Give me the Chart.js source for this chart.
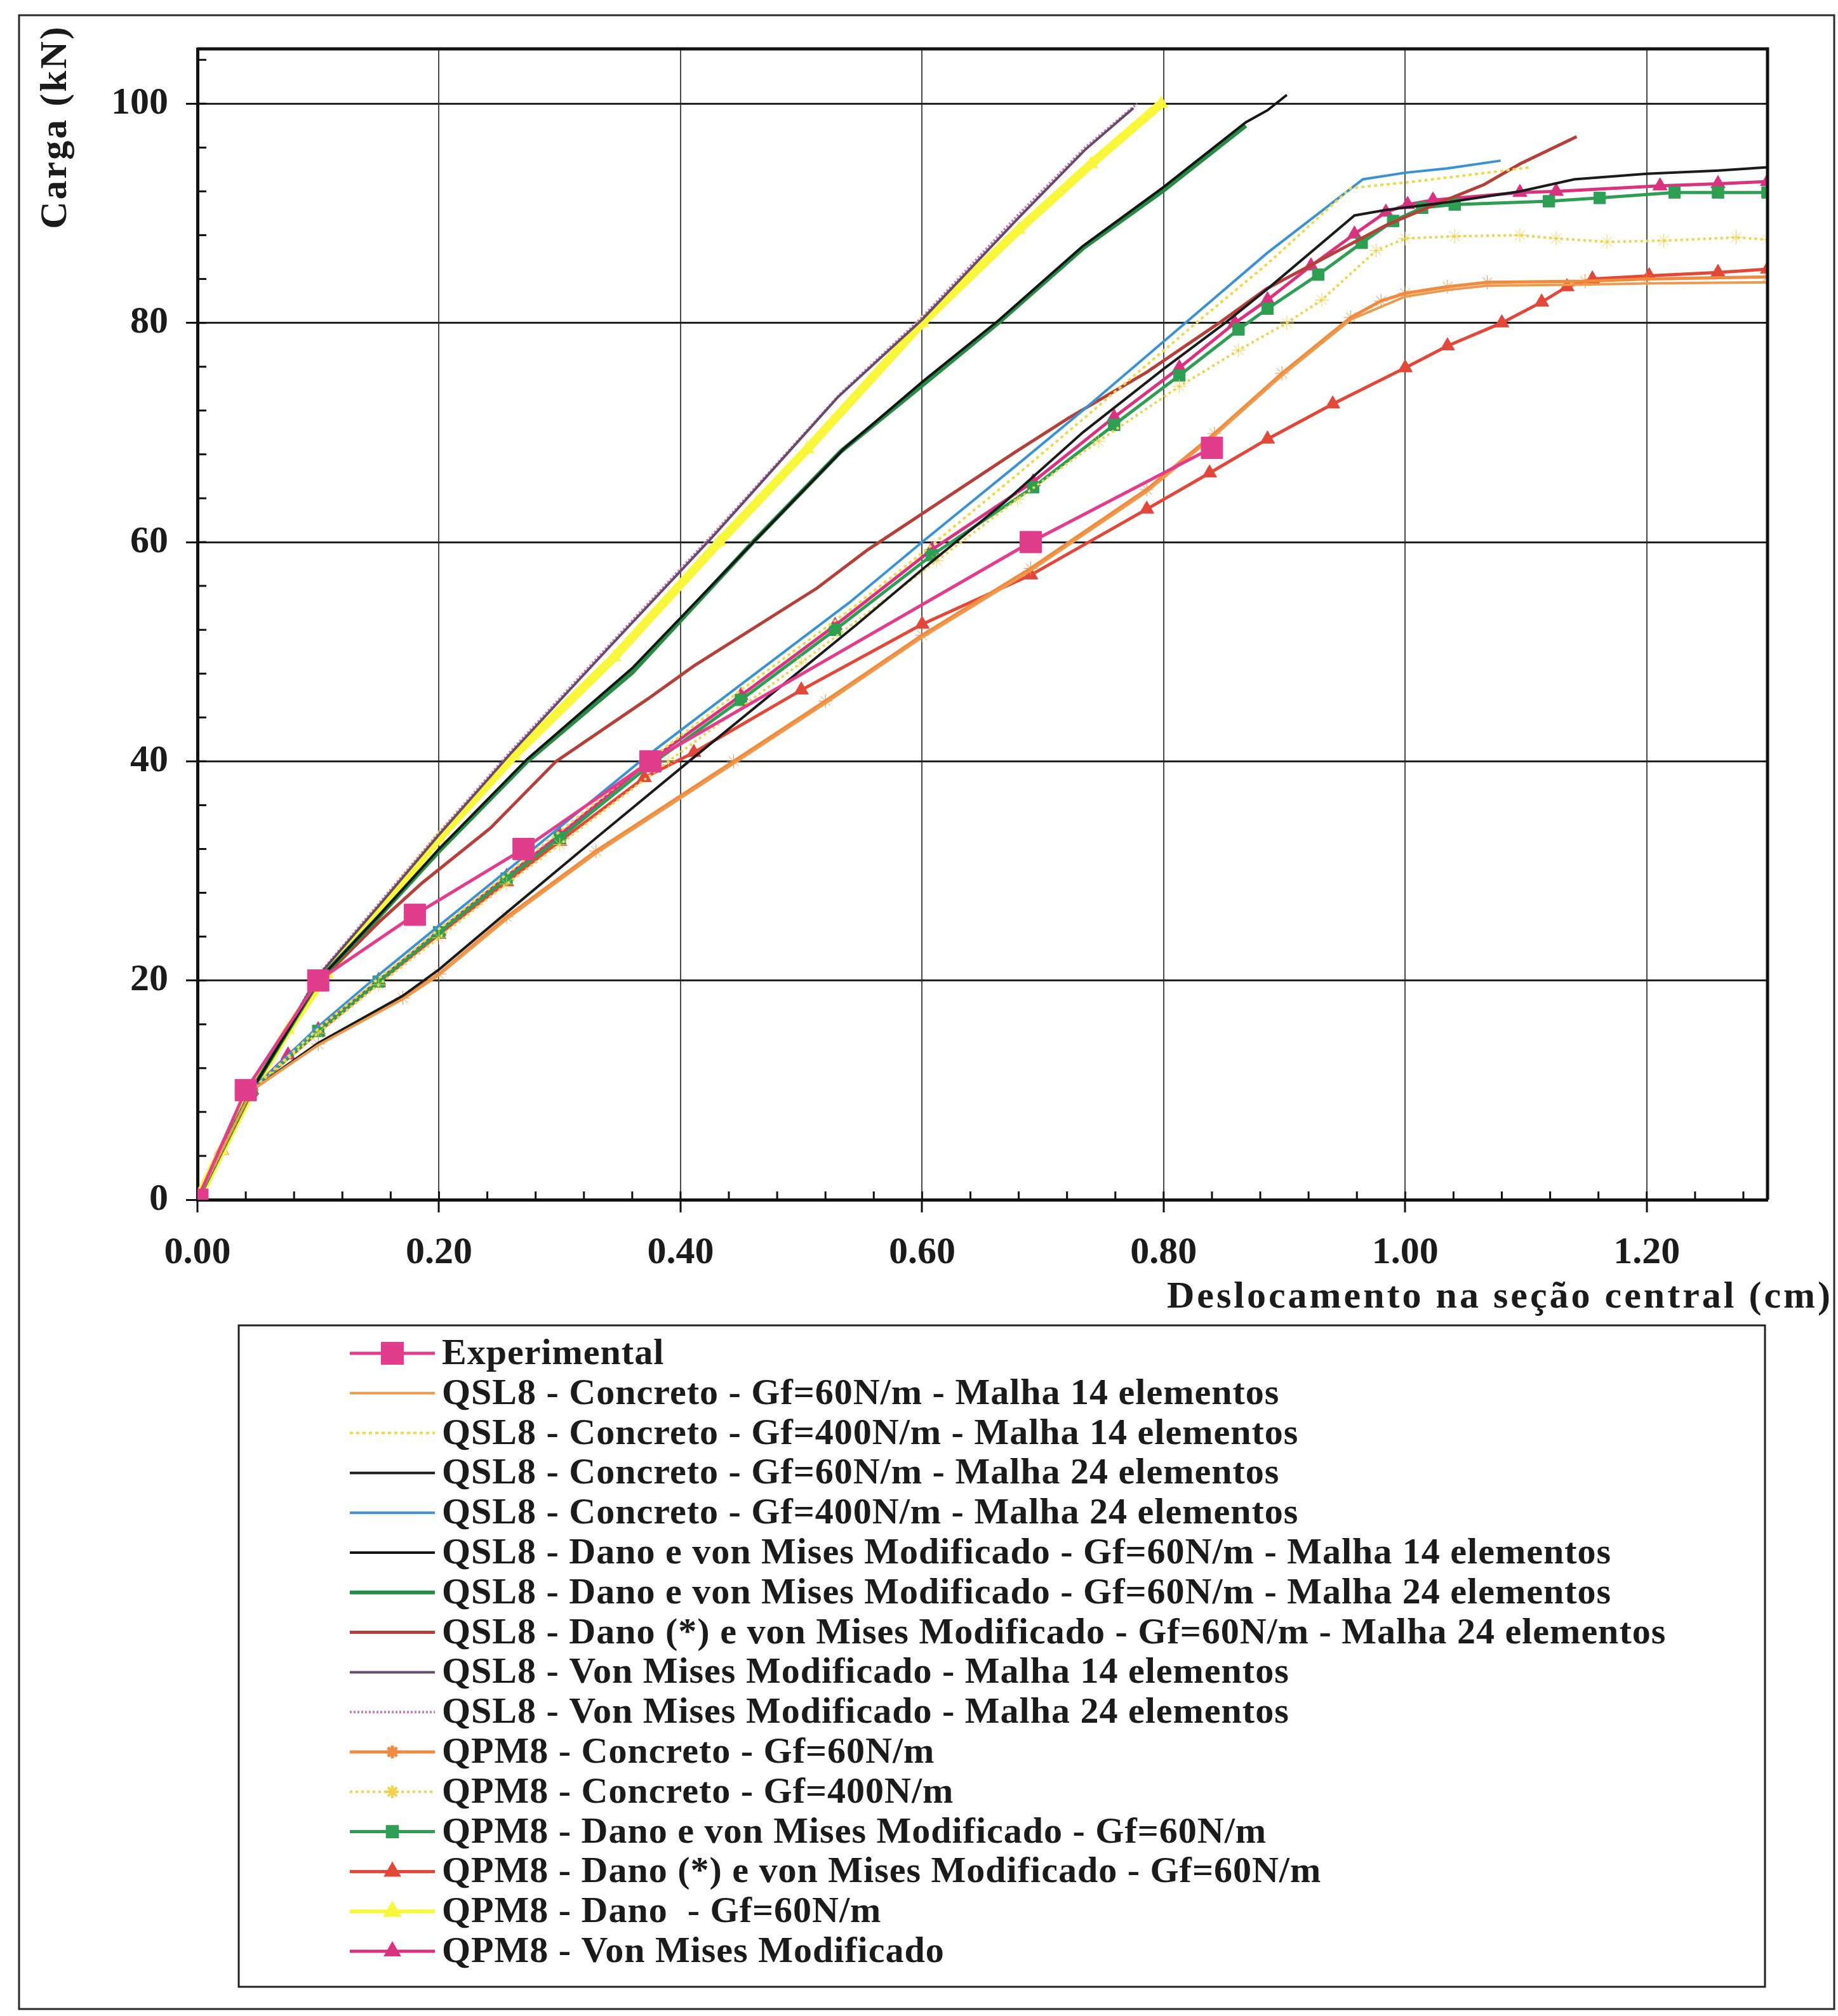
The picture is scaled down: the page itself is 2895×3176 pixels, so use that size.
<!DOCTYPE html>
<html>
<head>
<meta charset="utf-8">
<script src="https://cdn.jsdelivr.net/npm/chart.js@4.4.1/dist/chart.umd.min.js"></script>
<style>
  html, body { margin: 0; padding: 0; background: #fff; }
  canvas { display: block; }
</style>
</head>
<body>
<canvas id="c" width="2895" height="3176"></canvas>
<script>
// Axis ticks and ranges
const xTicks = [0, 0.2, 0.4, 0.6, 0.8, 1.0, 1.2];
const yTicks = [0, 20, 40, 60, 80, 100];
const xRange = [0, 1.30];
const yRange = [0, 105];

// Series labels, in legend order
const seriesLabels = [
  'Experimental',
  'QSL8 - Concreto - Gf=60N/m - Malha 14 elementos',
  'QSL8 - Concreto - Gf=400N/m - Malha 14 elementos',
  'QSL8 - Concreto - Gf=60N/m - Malha 24 elementos',
  'QSL8 - Concreto - Gf=400N/m - Malha 24 elementos',
  'QSL8 - Dano e von Mises Modificado - Gf=60N/m - Malha 14 elementos',
  'QSL8 - Dano e von Mises Modificado - Gf=60N/m - Malha 24 elementos',
  'QSL8 - Dano (*) e von Mises Modificado - Gf=60N/m - Malha 24 elementos',
  'QSL8 - Von Mises Modificado - Malha 14 elementos',
  'QSL8 - Von Mises Modificado - Malha 24 elementos',
  'QPM8 - Concreto - Gf=60N/m',
  'QPM8 - Concreto - Gf=400N/m',
  'QPM8 - Dano e von Mises Modificado - Gf=60N/m',
  'QPM8 - Dano (*) e von Mises Modificado - Gf=60N/m',
  'QPM8 - Dano  - Gf=60N/m',
  'QPM8 - Von Mises Modificado'
];

// Load (kN) vs. mid-span displacement (cm): [displacement, load]
const experimental = [[0,0],[0.04,10],[0.10,20],[0.18,26],[0.27,32],[0.375,40],[0.69,60],[0.84,68.6]];

const qsl8ConcGf60M14 = [[0,0],[0.045,10],[0.10,14.1],[0.17,18.3],[0.2,20.5],[0.256,25.6],[0.33,31.6],[0.444,39.8],[0.52,45.3],[0.60,51.3],[0.69,57.4],[0.786,64.6],[0.842,69.7],[0.898,75.2],[0.955,80.3],[1.0,82.4],[1.035,83.0],[1.068,83.4],[1.149,83.5],[1.2,83.6],[1.30,83.7]];

const qsl8ConcGf400M14 = [[0,0],[0.045,10],[0.10,15.6],[0.15,20.2],[0.2,24.7],[0.256,29.7],[0.30,33.6],[0.37,39.8],[0.45,46.5],[0.54,53.8],[0.60,59],[0.677,66],[0.733,71.2],[0.827,80],[0.886,85.4],[0.955,92.3],[1.0,92.8],[1.053,93.5],[1.104,94.2]];

const qsl8ConcGf60M24 = [[0,0],[0.045,10],[0.10,14.3],[0.17,18.6],[0.2,21],[0.256,26.2],[0.33,33],[0.407,40],[0.545,52.4],[0.60,57.5],[0.668,63.6],[0.733,70],[0.80,75.8],[0.851,80],[0.886,83.1],[0.958,89.8],[0.984,90.3],[1.035,91.0],[1.095,92.0],[1.14,93.1],[1.2,93.6],[1.259,93.9],[1.30,94.2]];

const qsl8ConcGf400M24 = [[0,0],[0.045,10],[0.10,15.8],[0.15,20.5],[0.2,25],[0.256,30],[0.30,34],[0.37,40.3],[0.45,47],[0.54,54.5],[0.60,60],[0.677,66.9],[0.733,72],[0.818,80],[0.886,86.4],[0.965,93.1],[1.0,93.7],[1.035,94.1],[1.079,94.8]];

const qsl8DanoVmM14 = [[0,0],[0.045,10],[0.10,20],[0.15,25.9],[0.2,32],[0.273,40.2],[0.36,48.5],[0.462,60.2],[0.535,68.5],[0.60,74.6],[0.663,80.2],[0.733,87],[0.80,92.4],[0.868,98.3],[0.886,99.4],[0.902,100.8]];

const qsl8DanoVmM24 = [[0,0],[0.045,10],[0.10,20],[0.15,25.8],[0.2,31.8],[0.273,40],[0.36,48.1],[0.46,60],[0.533,68.3],[0.60,74.3],[0.663,80],[0.733,86.8],[0.80,92.1],[0.868,98]];

const qsl8DanoStarVmM24 = [[0,0],[0.045,10],[0.10,19.8],[0.15,25.3],[0.186,28.9],[0.2425,33.9],[0.297,40],[0.373,45.7],[0.411,48.7],[0.513,55.8],[0.555,59.3],[0.603,62.8],[0.677,68.2],[0.721,71.3],[0.786,75.5],[0.846,80],[0.885,83.1],[0.984,88.9],[1.029,91.0],[1.065,92.6],[1.095,94.5],[1.142,97]];

const qsl8VmM14 = [[0,0],[0.045,10],[0.10,20.4],[0.15,26.8],[0.2,33.3],[0.26,40.8],[0.34,50.3],[0.425,60.3],[0.53,73.2],[0.60,80.3],[0.68,89.6],[0.735,95.8],[0.775,99.6]];

const qsl8VmM24 = [[0,0],[0.045,10],[0.10,20.5],[0.15,27],[0.2,33.5],[0.26,41],[0.34,50.5],[0.425,60.5],[0.532,73.5],[0.60,80.5],[0.679,89.8],[0.735,96],[0.778,100]];

const qpm8ConcGf60 = [[0,0],[0.045,10],[0.10,14.2],[0.17,18.4],[0.2,20.6],[0.256,25.8],[0.33,31.8],[0.444,40],[0.52,45.5],[0.60,51.5],[0.69,57.6],[0.786,64.8],[0.842,69.9],[0.898,75.4],[0.955,80.5],[0.980,82],[1.0,82.7],[1.035,83.3],[1.068,83.7],[1.149,83.8],[1.2,84.0],[1.30,84.2]];

const qpm8ConcGf400 = [[0,0],[0.045,10],[0.10,15.2],[0.15,19.6],[0.2,23.9],[0.256,28.8],[0.30,32.4],[0.39,40],[0.50,49],[0.612,58.3],[0.679,63.9],[0.746,69.2],[0.813,74.2],[0.862,77.5],[0.902,80],[0.931,82.1],[0.976,86.6],[1.0,87.7],[1.041,87.9],[1.095,88.0],[1.125,87.7],[1.167,87.4],[1.214,87.5],[1.274,87.8],[1.30,87.6]];

const qpm8DanoVm = [[0,0],[0.045,10],[0.10,15.4],[0.15,19.9],[0.2,24.4],[0.256,29.3],[0.30,33],[0.374,39.6],[0.45,45.6],[0.528,52],[0.608,58.8],[0.692,65],[0.759,70.7],[0.813,75.2],[0.862,79.4],[0.886,81.3],[0.928,84.4],[0.964,87.3],[0.990,89.3],[1.014,90.5],[1.041,90.8],[1.119,91.1],[1.161,91.4],[1.223,91.9],[1.259,91.9],[1.30,91.9]];

const qpm8DanoStarVm = [[0,0],[0.045,10],[0.10,15.3],[0.15,19.8],[0.2,24.2],[0.256,29],[0.30,32.7],[0.37,38.5],[0.411,40.8],[0.50,46.5],[0.60,52.5],[0.69,57],[0.786,63],[0.838,66.3],[0.886,69.4],[0.94,72.6],[1.0,75.9],[1.035,77.9],[1.08,80],[1.113,81.9],[1.134,83.3],[1.155,84.0],[1.202,84.3],[1.259,84.6],[1.30,84.9]];

const qpm8Dano = [[0,0],[0.02,4.5],[0.045,10],[0.075,15.5],[0.107,20.6],[0.151,26.5],[0.2,33],[0.262,40.5],[0.345,49.5],[0.432,60],[0.505,68.5],[0.6,80],[0.68,88.5],[0.74,94.5],[0.798,100]];

const qpm8Vm = [[0,0],[0.02,4.5],[0.045,10],[0.075,13.2],[0.10,15.5],[0.15,20],[0.2,24.5],[0.256,29.5],[0.30,33.3],[0.374,40],[0.45,46],[0.528,52.4],[0.608,59.3],[0.692,65.5],[0.759,71.4],[0.813,75.9],[0.859,80],[0.886,82.1],[0.922,85.2],[0.958,88.1],[0.984,90.1],[1.002,90.8],[1.023,91.2],[1.095,91.9],[1.125,92.0],[1.211,92.5],[1.259,92.7],[1.30,92.9]];

const seriesData = [
  experimental, qsl8ConcGf60M14, qsl8ConcGf400M14, qsl8ConcGf60M24, qsl8ConcGf400M24,
  qsl8DanoVmM14, qsl8DanoVmM24, qsl8DanoStarVmM24, qsl8VmM14, qsl8VmM24,
  qpm8ConcGf60, qpm8ConcGf400, qpm8DanoVm, qpm8DanoStarVm, qpm8Dano, qpm8Vm
];

// Line and marker appearance for each series
const seriesStyles = [
  { color: '#E23D8C', width: 5,  dash: [],     point: 'rect',     radius: 24, legendRadius: 22 },
  { color: '#EE9A4C', width: 4,  dash: [],     point: false,      radius: 0 },
  { color: '#EFD94A', width: 4,  dash: [5, 5], point: false,      radius: 0 },
  { color: '#1B1B1B', width: 4,  dash: [],     point: false,      radius: 0 },
  { color: '#3A92D2', width: 4,  dash: [],     point: false,      radius: 0 },
  { color: '#151515', width: 4,  dash: [],     point: false,      radius: 0 },
  { color: '#258B45', width: 7,  dash: [],     point: false,      radius: 0 },
  { color: '#B4403A', width: 5,  dash: [],     point: false,      radius: 0 },
  { color: '#6A4A6A', width: 4,  dash: [],     point: false,      radius: 0 },
  { color: '#C77ABD', width: 4,  dash: [3, 3], point: false,      radius: 0 },
  { color: '#F08A3E', width: 5,  dash: [],     point: 'star',     radius: 11, legendRadius: 10 },
  { color: '#F1D24C', width: 4,  dash: [4, 5], point: 'star',     radius: 11, legendRadius: 10 },
  { color: '#2E9E52', width: 5,  dash: [],     point: 'rect',     radius: 13, legendRadius: 11 },
  { color: '#E2483A', width: 5,  dash: [],     point: 'triangle', radius: 13, legendRadius: 11 },
  { color: '#F9F73C', width: 14, dash: [],     point: 'triangle', radius: 12, legendRadius: 11 },
  { color: '#D9327E', width: 5,  dash: [],     point: 'triangle', radius: 13, legendRadius: 11 }
];

const datasets = seriesData.map((pts, i) => {
  const s = seriesStyles[i];
  return {
    label: seriesLabels[i],
    data: pts.map(([x, y]) => ({ x, y })),
    borderColor: s.color,
    backgroundColor: s.color,
    borderWidth: s.width,
    borderDash: s.dash,
    pointStyle: s.point,
    pointRadius: s.radius,
    pointBackgroundColor: s.color,
    pointBorderColor: s.color,
    pointBorderWidth: 1,
    tension: 0,
    fill: false
  };
});

const SERIF = '"Liberation Serif", "Times New Roman", serif';
const INK = '#1b1b1b';

// Frame, minor ticks, axis titles and the boxed legend
const decor = {
  id: 'decor',
  beforeDraw(chart) {
    const ctx = chart.ctx;
    ctx.save();
    ctx.fillStyle = '#ffffff';
    ctx.fillRect(0, 0, chart.width, chart.height);
    ctx.strokeStyle = '#2a2a2a';
    ctx.lineWidth = 3;
    ctx.strokeRect(30, 24, 2859, 3141);
    ctx.restore();
  },
  afterDraw(chart) {
    const { ctx, chartArea: a, scales: { x, y } } = chart;
    ctx.save();

    // top and right edges of the plot frame
    ctx.strokeStyle = '#111';
    ctx.lineWidth = 5;
    ctx.beginPath();
    ctx.moveTo(a.left, a.top);
    ctx.lineTo(a.right, a.top);
    ctx.lineTo(a.right, a.bottom);
    ctx.stroke();

    // inward minor ticks
    ctx.lineWidth = 3;
    ctx.beginPath();
    for (let k = 1; k * 0.04 < xRange[1] - 1e-6; k++) {
      const px = x.getPixelForValue(k * 0.04);
      ctx.moveTo(px, a.bottom);
      ctx.lineTo(px, a.bottom - 13);
    }
    for (let k = 1; k * 4 < yRange[1]; k++) {
      const py = y.getPixelForValue(k * 4);
      ctx.moveTo(a.left, py);
      ctx.lineTo(a.left + 14, py);
    }
    ctx.stroke();

    // axis titles
    ctx.fillStyle = INK;
    ctx.font = 'bold 60px ' + SERIF;
    ctx.letterSpacing = '4px';
    ctx.textAlign = 'right';
    ctx.textBaseline = 'alphabetic';
    ctx.fillText('Deslocamento na seção central (cm)', 2887, 2060);

    ctx.save();
    ctx.translate(88, 200);
    ctx.rotate(-Math.PI / 2);
    ctx.letterSpacing = '3px';
    ctx.textAlign = 'center';
    ctx.textBaseline = 'middle';
    ctx.fillText('Carga (kN)', 0, 0);
    ctx.restore();

    // legend box
    const box = { left: 376, top: 2088, right: 2780, bottom: 3130 };
    ctx.strokeStyle = '#222';
    ctx.lineWidth = 3;
    ctx.strokeRect(box.left, box.top, box.right - box.left, box.bottom - box.top);

    const rowTop = 2132, rowStep = 62.8;
    const sampleL = 551, sampleR = 685, sampleMid = 618, textX = 696;
    chart.data.datasets.forEach((ds, i) => {
      const cy = rowTop + i * rowStep;
      const st = seriesStyles[i];
      ctx.save();
      ctx.strokeStyle = ds.borderColor;
      ctx.lineWidth = Math.min(ds.borderWidth, 6);
      ctx.setLineDash(ds.borderDash || []);
      ctx.beginPath();
      ctx.moveTo(sampleL, cy);
      ctx.lineTo(sampleR, cy);
      ctx.stroke();
      ctx.setLineDash([]);
      if (ds.pointStyle) {
        ctx.fillStyle = ds.pointBackgroundColor;
        ctx.strokeStyle = ds.pointBorderColor;
        Chart.helpers.drawPoint(ctx, {
          pointStyle: ds.pointStyle,
          rotation: 0,
          radius: st.legendRadius || ds.pointRadius,
          borderWidth: 1
        }, sampleMid, cy);
      }
      ctx.restore();

      ctx.fillStyle = INK;
      ctx.font = 'bold 58px ' + SERIF;
      ctx.letterSpacing = '1px';
      ctx.textAlign = 'left';
      ctx.textBaseline = 'middle';
      ctx.fillText(ds.label, textX, cy + 2);
    });

    ctx.restore();
  }
};

new Chart(document.getElementById('c'), {
  type: 'line',
  data: { datasets },
  options: {
    responsive: false,
    animation: false,
    devicePixelRatio: 1,
    layout: { padding: { left: 0, top: 77, right: 111, bottom: 1086 } },
    plugins: { legend: { display: false }, tooltip: { enabled: false } },
    scales: {
      x: {
        type: 'linear',
        min: xRange[0],
        max: xRange[1],
        afterBuildTicks: s => { s.ticks = xTicks.map(v => ({ value: v })); },
        afterFit: s => { s.height = 200; },
        ticks: {
          autoSkip: false,
          maxRotation: 0,
          padding: 28,
          color: INK,
          font: { family: SERIF, weight: 'bold', size: 60 },
          callback: v => Number(v).toFixed(2)
        },
        grid: { color: '#4a4a4a', lineWidth: 2, tickLength: 20, tickColor: '#111', tickWidth: 3 },
        border: { color: '#111', width: 5 }
      },
      y: {
        type: 'linear',
        min: yRange[0],
        max: yRange[1],
        afterBuildTicks: s => { s.ticks = yTicks.map(v => ({ value: v })); },
        afterFit: s => { s.width = 311; },
        ticks: {
          padding: 28,
          color: INK,
          font: { family: SERIF, weight: 'bold', size: 60 },
          callback: v => String(v)
        },
        grid: { color: '#222', lineWidth: 3, tickLength: 18, tickColor: '#111', tickWidth: 3 },
        border: { color: '#111', width: 5 }
      }
    }
  },
  plugins: [decor]
});
</script>
</body>
</html>
